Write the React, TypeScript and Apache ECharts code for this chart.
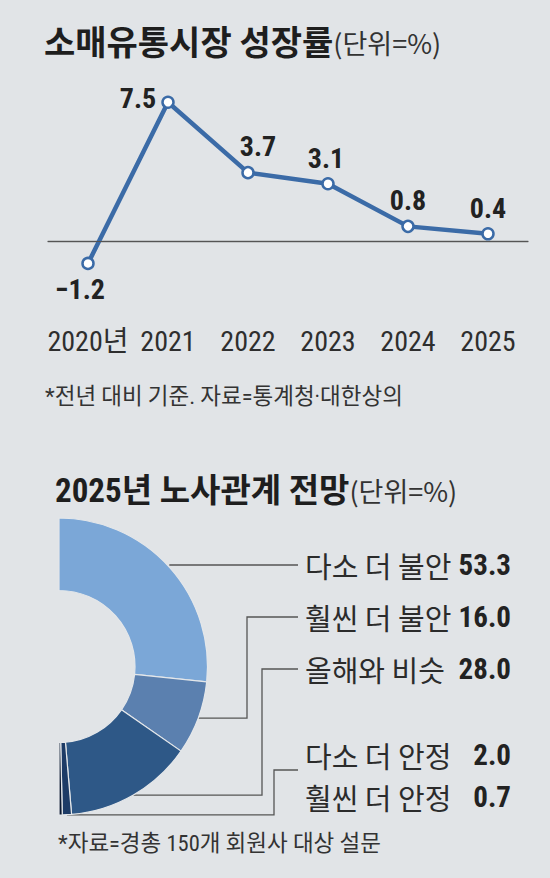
import React, { useEffect, useRef } from 'react';
import * as echarts from 'echarts';

// ---------- data ----------
const years = ['2020년', '2021', '2022', '2023', '2024', '2025'];
const growth = [-1.2, 7.5, 3.7, 3.1, 0.8, 0.4];

const outlookNames = ['다소 더 불안', '훨씬 더 불안', '올해와 비슷', '다소 더 안정', '훨씬 더 안정'];
const outlookValues = [53.3, 16.0, 28.0, 2.0, 0.7];

const title1 = '소매유통시장 성장률';
const title2 = '2025년 노사관계 전망';
const unitText = '(단위=%)';
const note1 = '*전년 대비 기준. 자료=통계청·대한상의';
const note2 = '*자료=경총 150개 회원사 대상 설문';

// ---------- styles ----------
const COND = "'Roboto Condensed', 'Noto Sans CJK KR', sans-serif";
const KR = "'Noto Sans CJK KR', sans-serif";
const BG = '#e1e4e7';
const LINE = '#3b6ba7';
const sliceColors = ['#7ba7d7', '#5b80af', '#2e5887', '#1d3b66', '#0c1a33'];

const pointLabel: any[] = [
  { position: 'bottom', offset: [-8, 0] },
  { position: 'left', offset: [0, -4] },
  { position: 'top', offset: [10, 0] },
  { position: 'top', offset: [-2, 0] },
  { position: 'top', offset: [0, 0] },
  { position: 'top', offset: [0, 0] },
];

// label rows of the donut (layout)
const rowX = 305;
const rowY = [565, 617, 669, 755, 797];
const elbowX: (number | null)[] = [null, 247, 262, 274, null];
const leaderEndY: (number | null)[] = [565, 617, 669, 770, null];

export default function App() {
  const ref = useRef<HTMLDivElement>(null);

  useEffect(() => {
    document.body.style.margin = '0';
    if (!ref.current) return;
    const chart = echarts.init(ref.current, null, { renderer: 'svg' });

    const titleRich = (size: number) => ({
      a: { fontFamily: COND, fontSize: size, fontWeight: 'bold', color: '#1e1e1e', lineHeight: 38 },
      b: { fontFamily: KR, fontSize: 27, fontWeight: 'normal', color: '#333', lineHeight: 38 },
    });
    const noteStyle = { fontFamily: COND, fontSize: 22.5, fontWeight: 'normal', color: '#333', lineHeight: 26 };

    const option: any = {
      animation: false,
      backgroundColor: BG,
      title: [
        { text: `{a|${title1}}{b|${unitText}}`, left: 44, top: 23.5, padding: 0, textStyle: { rich: titleRich(34) } },
        { text: `{a|${title2}}{b|${unitText}}`, left: 55, top: 471, padding: 0, textStyle: { rich: titleRich(33) } },
        { text: note1, left: 45, top: 383, padding: 0, textStyle: noteStyle },
        { text: note2, left: 58, top: 830, padding: 0, textStyle: noteStyle },
      ],
      grid: { left: 48, top: 93, width: 480, height: 229.7, containLabel: false },
      xAxis: {
        type: 'category',
        data: years,
        boundaryGap: true,
        axisLine: { lineStyle: { color: '#666', width: 1.3 } },
        axisTick: { inside: true, length: 5, alignWithLabel: true, lineStyle: { color: '#777', width: 1 } },
        axisLabel: { fontFamily: COND, fontSize: 28, color: '#2e2e2e', margin: 5, interval: 0 },
        splitLine: { show: false },
      },
      yAxis: { type: 'value', min: -4.4, max: 8, show: false, splitLine: { show: false } },
      series: [
        {
          type: 'line',
          data: growth.map((v, i) => ({ value: v, label: pointLabel[i] })),
          symbol: 'circle',
          symbolSize: 11,
          lineStyle: { color: LINE, width: 4.5 },
          itemStyle: { color: '#fff', borderColor: LINE, borderWidth: 2.5 },
          label: {
            show: true,
            fontFamily: COND,
            fontSize: 28,
            fontWeight: 'bold',
            color: '#222',
            distance: 5,
            formatter: (p: any) => (p.value < 0 ? '\u2212' + Math.abs(p.value) : String(p.value)),
          },
          markLine: {
            silent: true,
            symbol: 'none',
            label: { show: false },
            lineStyle: { color: '#555', width: 1.2, type: 'solid' },
            data: [{ yAxis: 0 }],
          },
          z: 3,
        },
        {
          type: 'pie',
          center: [59, 666.5],
          radius: [76, 148.5],
          startAngle: 90,
          endAngle: -90,
          clockwise: true,
          avoidLabelOverlap: false,
          emphasis: { disabled: true },
          itemStyle: { borderColor: '#e4e7ea', borderWidth: 1.2 },
          data: outlookNames.map((n, i) => ({
            name: n,
            value: outlookValues[i],
            itemStyle: { color: sliceColors[i] },
            labelLine: { show: leaderEndY[i] != null },
          })),
          label: {
            show: true,
            position: 'outside',
            formatter: (p: any) => `{n|${p.name}}{v|${Number(p.value).toFixed(1)}}`,
            rich: {
              n: { fontFamily: KR, fontSize: 29, color: '#2b2b2b', width: 150, lineHeight: 34 },
              v: { fontFamily: COND, fontSize: 29, fontWeight: 'bold', color: '#222', width: 56, align: 'right', lineHeight: 34 },
            },
          },
          labelLine: { show: true, length: 10, length2: 10, smooth: false, lineStyle: { color: '#555', width: 1.3 } },
          labelLayout: (p: any) => {
            const i = p.dataIndex;
            const res: any = { x: rowX, y: rowY[i], align: 'left', verticalAlign: 'middle' };
            const pts = p.labelLinePoints;
            const ey = leaderEndY[i];
            if (pts && pts.length && ey != null) {
              const sx = pts[0][0];
              const sy = pts[0][1];
              const endX = rowX - 7;
              const ex = elbowX[i];
              res.labelLinePoints =
                ex == null
                  ? [[sx, ey], [endX, ey]]
                  : [[sx, sy], [ex, sy], [ex, ey], [endX, ey]];
            }
            return res;
          },
        },
      ],
    };

    chart.setOption(option);
    return () => chart.dispose();
  }, []);

  return <div ref={ref} style={{ width: 550, height: 878, background: BG }} />;
}
